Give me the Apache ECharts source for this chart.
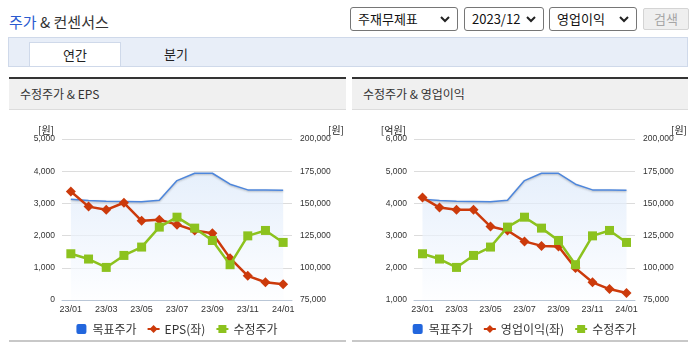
<!DOCTYPE html>
<html><head><meta charset="utf-8">
<script src="https://cdn.jsdelivr.net/npm/echarts@6/dist/echarts.min.js"></script>
<style>
html,body{margin:0;padding:0;width:695px;height:349px;overflow:hidden;background:#fff;font-family:"Noto Sans CJK KR","Liberation Sans",sans-serif;color:#333;}
.abs{position:absolute;box-sizing:border-box;}
#title{left:9px;top:12px;font-size:15px;line-height:20px;white-space:nowrap;color:#333;}
#title .b{color:#2a5bd0;}
.sel{position:absolute;box-sizing:border-box;top:7px;height:24px;border:1px solid #767676;border-radius:3px;font-size:13px;line-height:22px;padding-left:7px;background:#fff;color:#111;white-space:nowrap;}
.sel svg{position:absolute;right:7px;top:8px;}
#btn{left:643px;top:8px;width:46px;height:22px;background:#efefef;border:1px solid #d4d4d4;border-radius:2px;font-size:13px;line-height:20px;text-align:center;color:#a6a6a6;}
#tabbar{left:8px;top:37px;width:680px;height:30px;background:#e8eef8;border:1px solid #cfd9ea;}
#tab1{left:29px;top:42px;width:92px;height:24px;background:#fff;border:1px solid #cfd9ea;border-bottom:none;font-size:13px;line-height:23px;text-align:center;color:#222;}
#tab2{left:130px;top:42px;width:92px;height:24px;font-size:13px;line-height:23px;text-align:center;color:#222;}
.ph{top:77px;height:33px;border-top:2px solid #333;border-bottom:1px solid #dcdcdc;background:#f0f0f0;font-size:12px;line-height:30px;padding-left:11px;color:#333;white-space:nowrap;}
.pb{top:340px;height:2px;background:#c8c8c8;}
.chart{position:absolute;top:110px;height:239px;}
</style>
</head><body>
<div id="title" class="abs"><span class="b">주가</span> &amp; 컨센서스</div>
<div class="sel" style="left:350px;width:108px;">주재무제표<svg width="10" height="7"><polyline points="1,1 5,5 9,1" fill="none" stroke="#222" stroke-width="2"/></svg></div>
<div class="sel" style="left:464px;width:80px;">2023/12<svg width="10" height="7"><polyline points="1,1 5,5 9,1" fill="none" stroke="#222" stroke-width="2"/></svg></div>
<div class="sel" style="left:549px;width:88px;">영업이익<svg width="10" height="7"><polyline points="1,1 5,5 9,1" fill="none" stroke="#222" stroke-width="2"/></svg></div>
<div id="btn" class="abs">검색</div>
<div id="tabbar" class="abs"></div>
<div id="tab1" class="abs">연간</div>
<div id="tab2" class="abs">분기</div>
<div class="abs ph" style="left:9px;width:337px;">수정주가 &amp; EPS</div>
<div class="abs ph" style="left:352px;width:336px;">수정주가 &amp; 영업이익</div>
<div class="abs pb" style="left:9px;width:337px;"></div>
<div class="abs pb" style="left:352px;width:336px;"></div>
<div id="c1" class="chart" style="left:0px;width:354px;"></div>
<div id="c2" class="chart" style="left:352px;width:345px;"></div>
<script>
const categories = ['23/01','23/02','23/03','23/04','23/05','23/06','23/07','23/08','23/09','23/10','23/11','23/12','24/01'];
const targetPrice = [153250, 152200, 151700, 151450, 151200, 152500, 167700, 173400, 173400, 164900, 160500, 160500, 160200];
const adjPrice = [110900, 106800, 100300, 109600, 116100, 131600, 139300, 130800, 121200, 102400, 124800, 129000, 119700];
const epsValues = [3370, 2900, 2800, 3020, 2460, 2490, 2340, 2160, 2070, 1300, 750, 550, 490];
const opProfit = [4180, 3870, 3800, 3800, 3280, 3160, 2820, 2680, 2660, 1990, 1550, 1340, 1220];
const epsAxisRange = [0, 5000];
const opAxisRange = [1000, 6000];
const priceAxisRange = [75000, 200000];

const FONT = '"Liberation Sans","Noto Sans CJK KR",sans-serif';
const fmt = v => Number(v).toLocaleString('en-US');
const squareIcon = 'path://M2,0 H8 Q10,0 10,2 V8 Q10,10 8,10 H2 Q0,10 0,8 V2 Q0,0 2,0 Z';

function makeOption(leftName, leftRange, leftLabel, leftData) {
  return {
    animation: false,
    textStyle: {fontFamily: FONT},
    grid: {left: 62, right: 62, top: 29, bottom: 49},
    legend: {
      left: 'center', top: 208, itemWidth: 12, itemHeight: 10, itemGap: 10,
      textStyle: {fontSize: 12, color: '#333', fontFamily: '"Noto Sans CJK KR","Liberation Sans",sans-serif'},
      data: [{name: '목표주가', icon: squareIcon}, {name: leftLabel}, {name: '수정주가'}]
    },
    xAxis: {
      type: 'category', data: categories, boundaryGap: true,
      axisLine: {lineStyle: {color: '#b9c6d6'}},
      axisTick: {interval: i => i % 2 === 1, length: 4, lineStyle: {color: '#b9c6d6'}},
      axisLabel: {interval: 1, fontSize: 9, color: '#333', margin: 5}
    },
    yAxis: [
      {type: 'value', min: leftRange[0], max: leftRange[1], interval: 1000, position: 'left',
       name: leftName, nameLocation: 'end', nameGap: 3,
       nameTextStyle: {fontSize: 10, color: '#222', align: 'right', padding: [0, 8, 0, 0], fontFamily: '"Noto Sans CJK KR",sans-serif'},
       axisLine: {show: false}, axisTick: {show: false},
       axisLabel: {fontSize: 8.5, color: '#333', margin: 7, formatter: fmt},
       splitLine: {lineStyle: {color: '#dcdcdc'}}},
      {type: 'value', min: priceAxisRange[0], max: priceAxisRange[1], interval: 25000, position: 'right',
       name: '[원]', nameLocation: 'end', nameGap: 3,
       nameTextStyle: {fontSize: 10, color: '#222', align: 'left', padding: [0, 0, 0, 36], fontFamily: '"Noto Sans CJK KR",sans-serif'},
       axisLine: {show: false}, axisTick: {show: false},
       axisLabel: {fontSize: 8.5, color: '#333', margin: 8, formatter: fmt},
       splitLine: {show: false}}
    ],
    series: [
      {name: '목표주가', type: 'line', yAxisIndex: 1, data: targetPrice, symbol: 'none', z: 1,
       itemStyle: {color: '#2266dd'},
       lineStyle: {color: '#4d86dc', width: 1.5, shadowColor: 'rgba(0,0,0,0.25)', shadowBlur: 2, shadowOffsetY: 1},
       areaStyle: {color: new echarts.graphic.LinearGradient(0, 0, 0, 1, [{offset: 0, color: '#dbe8f9'}, {offset: 1, color: '#fcfdff'}])}},
      {name: leftLabel, type: 'line', yAxisIndex: 0, data: leftData, symbol: 'diamond', symbolSize: 10, z: 2,
       itemStyle: {color: '#cc3a0b'}, lineStyle: {width: 2.5}},
      {name: '수정주가', type: 'line', yAxisIndex: 1, data: adjPrice, symbol: 'rect', symbolSize: 9, z: 3,
       itemStyle: {color: '#8cc21e'}, lineStyle: {width: 2.5}}
    ]
  };
}
echarts.init(document.getElementById('c1')).setOption(makeOption('[원]', epsAxisRange, 'EPS(좌)', epsValues));
echarts.init(document.getElementById('c2')).setOption(makeOption('[억원]', opAxisRange, '영업이익(좌)', opProfit));
</script>
</body></html>
